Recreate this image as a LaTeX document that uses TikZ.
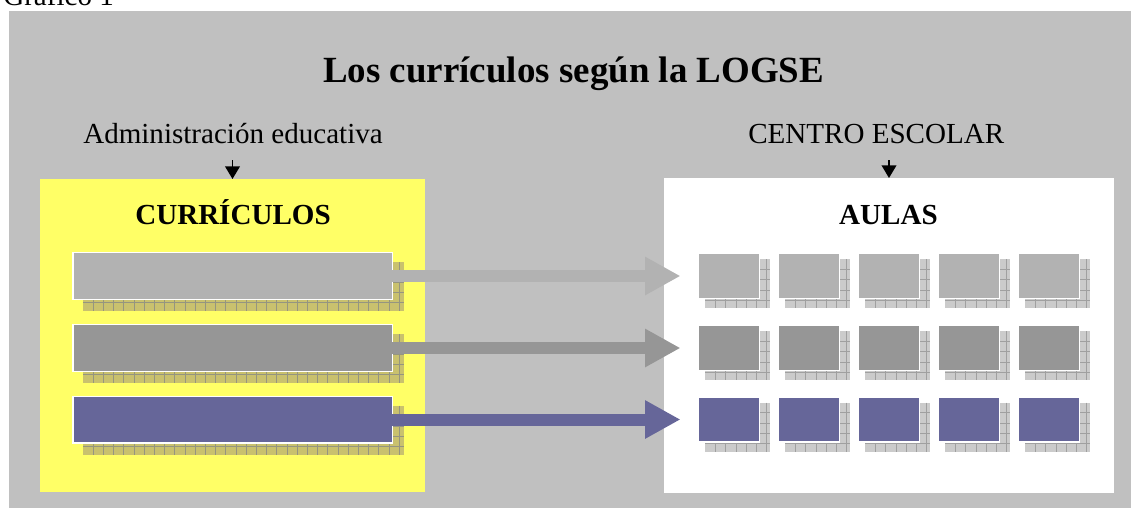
\documentclass[tikz,border=0pt]{standalone}
\usepackage{fontspec}
\setmainfont{Liberation Serif}
\usetikzlibrary{arrows.meta}
\definecolor{bggray}{HTML}{C0C0C0}
\definecolor{yel}{HTML}{FFFF66}
\definecolor{lg}{HTML}{B2B2B2}
\definecolor{mg}{HTML}{969696}
\definecolor{pu}{HTML}{666699}
\definecolor{shy}{HTML}{C9C16E}
\definecolor{shw}{HTML}{CBCBCB}
\definecolor{gridy}{HTML}{959580}
\definecolor{gridw}{HTML}{A0A0A0}
\newcommand\hatchrect[6]{%
  \begin{scope}
    \fill[sh#5] (#1,#2) rectangle (#3,#4);
    \clip (#1,#2) rectangle (#3,#4);
    \foreach \gk in {1,...,34} {
      \draw[grid#5, line width=0.6pt] ({#1+\gk*#6},#2) -- ({#1+\gk*#6},#4);
    }
    \foreach \gk in {1,...,6} {
      \draw[grid#5, line width=0.6pt] (#1,{#2+\gk*#6}) -- (#3,{#2+\gk*#6});
    }
  \end{scope}}
\begin{document}
\begin{tikzpicture}[x=0.75pt,y=-0.75pt,
  txt/.style={inner sep=0pt, font=\fontsize{21.8}{24}\selectfont},
  bold/.style={inner sep=0pt, font=\fontsize{21.8}{24}\selectfont\bfseries},
  panel/.style={inner sep=0pt, outer sep=0pt},
  bigbar/.style={draw=white, line width=1.1pt, inner sep=0pt, outer sep=0pt,
    minimum width=239.6pt, minimum height=34.9pt},
  room/.style={draw=white, line width=1.1pt, inner sep=0pt, outer sep=0pt,
    minimum width=45.4pt, minimum height=33.4pt},
  downarrow/.style={line width=1.3pt, -{Triangle[length=9.5pt,width=11pt]}},
  flow/.style={line width=9pt, -{Triangle[length=26.6pt,width=27pt]}}]
\useasboundingbox (0,0) rectangle (1131,508);
\clip (0,0) rectangle (1131,508);
\fill[white] (0,0) rectangle (1131,508);
\fill[bggray] (9,11) rectangle (1131,508);
\node[txt, anchor=base west] (graf) at (3,5) {Gráfico 1};
\node[inner sep=0pt, anchor=base west, font=\fontsize{27.7}{30}\selectfont\bfseries] (title) at (323,82) {Los currículos según la LOGSE};
\node[txt, anchor=base west] (admin) at (83,143) {Administración educativa};
\node[txt, anchor=base west] (centro) at (748,143) {CENTRO ESCOLAR};
\node[panel, fill=yel, minimum width=288.75pt, minimum height=234.75pt] (curr) at (232.5,335.5) {};
\node[panel, fill=white, minimum width=337.5pt, minimum height=235.9pt] (aulas) at (889,335.25) {};
\coordinate (adminarr) at (232.5,160);
\coordinate (centroarr) at (889,160);
\draw[downarrow] (adminarr) -- (curr.north);
\draw[downarrow] (centroarr) -- (aulas.north);
\node[bold, anchor=base] (currlab) at (233,224) {CURRÍCULOS};
\node[bold, anchor=base] (aulaslab) at (888.5,224) {AULAS};
\foreach \r/\c/\cy in {1/lg/276, 2/mg/348, 3/pu/419.5} {
  \hatchrect{83}{\cy-14}{404}{\cy+35}{y}{10.2}
  \node[bigbar, fill=\c] (bar\r) at (232.5,\cy) {};
  \foreach \i in {0,...,4} {
    \hatchrect{729+80*\i-24}{\cy-17}{729+80*\i+41}{\cy+32}{w}{10.3}
    \node[room, fill=\c] (room\r-\i) at ({729+80*\i},\cy) {};
  }
  \coordinate (tip\r) at (680.5,\cy);
  \draw[flow, \c] (bar\r.east) -- (tip\r);
}
\end{tikzpicture}
\end{document}
